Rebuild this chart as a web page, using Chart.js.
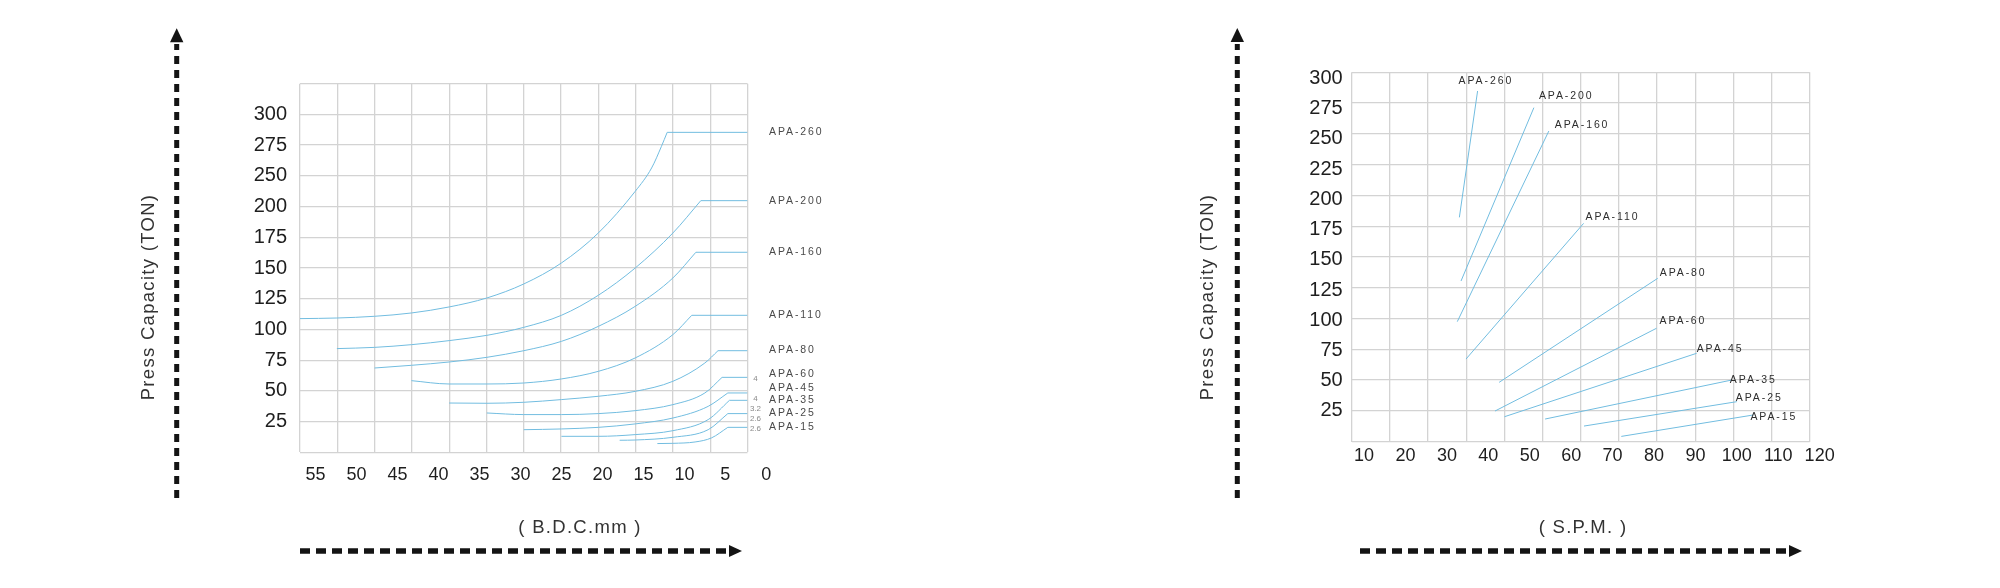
<!DOCTYPE html>
<html>
<head>
<meta charset="utf-8">
<title>Press capacity charts</title>
<script src="https://cdn.jsdelivr.net/npm/chart.js@4.4.1/dist/chart.umd.min.js"></script>
<style>
  body { margin: 0; background: #fff; }
  .panel { position: absolute; top: 0; width: 1000px; height: 588px; }
</style>
</head>
<body>
<div class="panel" style="left:0"><canvas id="bdcChart" width="1000" height="588"></canvas></div>
<div class="panel" style="left:1000px"><canvas id="spmChart" width="1000" height="588"></canvas></div>
<script>
// model names, top to bottom
var models = ['APA-260', 'APA-200', 'APA-160', 'APA-110', 'APA-80', 'APA-60', 'APA-45', 'APA-35', 'APA-25', 'APA-15'];

// ---- left chart: capacity (TON) against B.D.C. (mm) ----
var bdcTicks = [55, 50, 45, 40, 35, 30, 25, 20, 15, 10, 5, 0];
// tick labels as printed (the 225 line is printed "250" etc.)
var bdcTonLabels = ['', '25', '50', '75', '100', '125', '150', '175', '200', '250', '275', '300', ''];

var bdc260 = [56.9, 52.4, 47.8, 43.3, 38.7, 34.1, 29.6, 25.0, 20.5, 16.0, 14.0, 12.8, 12.1, 2.3];
var ton260 = [108.8, 109.3, 110.7, 113.4, 118.3, 125.6, 137.0, 154.1, 178.5, 212.4, 231.4, 249.0, 260.4, 260.4];
var bdc200 = [52.4, 47.8, 43.3, 38.7, 34.1, 29.6, 25.0, 20.5, 16.0, 11.4, 8.0, 2.3];
var ton200 = [84.4, 85.4, 87.6, 90.9, 95.2, 101.7, 111.5, 127.8, 150.0, 178.5, 204.8, 204.8];
var bdc160 = [47.8, 43.3, 38.7, 34.1, 29.6, 25.0, 20.5, 16.0, 11.4, 8.6, 2.3];
var ton160 = [68.6, 70.8, 73.5, 77.3, 82.7, 90.3, 102.5, 118.8, 141.9, 162.8, 162.8];
var bdc110 = [43.3, 38.7, 34.1, 29.6, 25.0, 20.5, 16.0, 11.4, 9.1, 2.3];
var ton110 = [58.3, 55.6, 55.6, 56.4, 59.7, 65.9, 76.8, 95.8, 111.5, 111.5];
var bdc80 = [38.7, 34.1, 29.6, 25.0, 20.5, 16.0, 11.4, 7.5, 5.9, 2.3];
var ton80 = [40.1, 39.9, 40.7, 42.9, 45.6, 49.6, 57.8, 72.7, 82.7, 82.7];
var bdc60 = [34.1, 29.6, 25.0, 20.5, 16.0, 11.4, 7.5, 5.4, 2.3];
var ton60 = [32.0, 30.7, 30.7, 31.5, 33.9, 38.8, 48.3, 61.0, 61.0];
var bdc45 = [29.6, 25.0, 20.5, 16.0, 11.4, 7.1, 4.7, 2.3];
var ton45 = [18.4, 19.0, 20.3, 23.1, 27.9, 37.4, 48.3, 48.3];
var bdc35 = [25.0, 20.5, 16.0, 11.4, 7.1, 4.5, 2.3];
var ton35 = [13.0, 13.0, 14.4, 17.6, 26.6, 42.3, 42.3];
var bdc25 = [17.9, 16.0, 11.4, 7.1, 4.7, 2.3];
var ton25 = [9.8, 10.0, 12.2, 18.4, 31.5, 31.5];
var bdc15 = [13.3, 11.4, 8.7, 6.7, 4.7, 2.3];
var ton15 = [7.1, 7.3, 8.4, 11.7, 20.3, 20.3];

var sideNotes = ['4', '4', '3.2', '2.6', '2.6'];
var sideNoteTon = [59.7, 43.4, 35.2, 27.1, 19.5];

// ---- right chart: capacity (TON) against S.P.M. ----
var spmTicks = [10, 20, 30, 40, 50, 60, 70, 80, 90, 100, 110, 120];
var spmTonTicks = [25, 50, 75, 100, 125, 150, 175, 200, 225, 250, 275, 300];
var spmLow = [33.0, 33.4, 32.5, 34.6, 42.6, 41.6, 43.9, 53.7, 63.1, 72.1];
var tonLow = [182.2, 130.5, 97.5, 67.1, 48.2, 24.9, 20.3, 18.4, 12.7, 4.3];
var spmHigh = [37.4, 51.0, 54.6, 63.0, 80.9, 80.6, 90.3, 98.8, 100.0, 104.0];
var tonHigh = [284.8, 271.3, 252.3, 177.3, 132.7, 92.1, 71.8, 50.1, 32.5, 21.7];

var lineBlue = '#72bde0';
var gridGrey = '#d3d3d3';
var family = "'Liberation Sans', Arial, sans-serif";

function fixedWidth(w) { return function (axis) { axis.width = w; }; }
function fixedHeight(h) {
    return function (axis) {
        axis.height = h;
        // labels run past the plot on purpose, don't let them squeeze the layout
        axis.paddingLeft = 0;
        axis.paddingRight = 0;
    };
}
function tickList(list) {
    return function (axis) { axis.ticks = list.map(function (v) { return { value: v }; }); };
}

function lineStyle(ds) {
    ds.borderColor = lineBlue;
    ds.borderWidth = 1;
    ds.pointRadius = 0;
    ds.fill = false;
    return ds;
}

function dashedArrow(ctx, vertical, fixed, from, to, tip) {
    ctx.save();
    ctx.strokeStyle = '#141414';
    ctx.fillStyle = '#141414';
    ctx.lineWidth = vertical ? 5 : 5.5;
    ctx.setLineDash(vertical ? [8, 6] : [10, 6]);
    ctx.beginPath();
    if (vertical) { ctx.moveTo(fixed, from); ctx.lineTo(fixed, to); }
    else { ctx.moveTo(from, fixed); ctx.lineTo(to, fixed); }
    ctx.stroke();
    ctx.beginPath();
    if (vertical) {
        ctx.moveTo(fixed, tip); ctx.lineTo(fixed - 6.7, tip + 14); ctx.lineTo(fixed + 6.7, tip + 14);
    } else {
        ctx.moveTo(tip, fixed); ctx.lineTo(tip - 13, fixed - 6); ctx.lineTo(tip - 13, fixed + 6);
    }
    ctx.closePath();
    ctx.fill();
    ctx.restore();
}

function axisTitles(ctx, yTitleX, xTitle, xTitleX) {
    ctx.save();
    ctx.fillStyle = '#333';
    ctx.font = '18.5px ' + family;
    ctx.letterSpacing = '1.3px';
    ctx.textAlign = 'center';
    ctx.textBaseline = 'middle';
    ctx.save();
    ctx.translate(yTitleX, 297);
    ctx.rotate(-Math.PI / 2);
    ctx.fillText('Press Capacity (TON)', 0, 0);
    ctx.restore();
    ctx.fillText(xTitle, xTitleX, 528);
    ctx.restore();
}

function labelFont(ctx, colour) {
    ctx.fillStyle = colour;
    ctx.font = '10.5px ' + family;
    ctx.letterSpacing = '1.9px';
    ctx.textAlign = 'left';
    ctx.textBaseline = 'middle';
}

// ---------- left chart ----------
var bdcCurves = [[bdc260, ton260], [bdc200, ton200], [bdc160, ton160], [bdc110, ton110], [bdc80, ton80],
                 [bdc60, ton60], [bdc45, ton45], [bdc35, ton35], [bdc25, ton25], [bdc15, ton15]];
var leftSets = [];
bdcCurves.forEach(function (c, i) {
    var pts = c[0].map(function (x, j) { return { x: x, y: c[1][j] }; });
    // curved part up to the knee, then the flat rated part
    leftSets.push(lineStyle({ label: models[i], data: pts.slice(0, -1), cubicInterpolationMode: 'monotone' }));
    leftSets.push(lineStyle({ label: models[i] + ' rated', data: pts.slice(-2) }));
});

var leftNudge = [0, 0, 0, 0, -1, -3, -5, 0, 0, 0];

var leftDecor = {
    id: 'leftDecor',
    afterDraw: function (chart) {
        var ctx = chart.ctx, y = chart.scales.y, area = chart.chartArea;
        dashedArrow(ctx, true, 176.7, 498, 44, 28.3);
        dashedArrow(ctx, false, 551, 300, 731, 742);
        axisTitles(ctx, 148.5, '( B.D.C.mm )', 580);
        ctx.save();
        labelFont(ctx, '#4a4a4a');
        bdcCurves.forEach(function (c, i) {
            var rated = c[1][c[1].length - 1];
            ctx.fillText(models[i], area.right + 21.5, y.getPixelForValue(rated) + leftNudge[i]);
        });
        ctx.fillStyle = '#8a8a8a';
        ctx.font = '8px ' + family;
        ctx.letterSpacing = '0px';
        ctx.textAlign = 'center';
        sideNotes.forEach(function (t, i) {
            ctx.fillText(t, area.right + 8, y.getPixelForValue(sideNoteTon[i]));
        });
        ctx.restore();
    }
};

new Chart(document.getElementById('bdcChart'), {
    type: 'line',
    data: { datasets: leftSets },
    options: {
        responsive: false,
        animation: false,
        layout: { padding: { left: 210, right: 252.5, top: 83.7, bottom: 95.7 } },
        plugins: { legend: { display: false }, tooltip: { enabled: false } },
        scales: {
            x: {
                type: 'linear', position: 'bottom', reverse: true, min: 2.3, max: 56.9,
                afterBuildTicks: tickList(bdcTicks),
                afterFit: fixedHeight(40),
                grid: { display: false },
                border: { display: false },
                ticks: { autoSkip: false, maxRotation: 0, padding: 4, color: '#1e1e1e',
                         font: { size: 18, family: family }, callback: function (v) { return String(v); } }
            },
            xGrid: {
                type: 'linear', position: 'bottom', min: 0, max: 12,
                afterFit: fixedHeight(0),
                ticks: { display: false, stepSize: 1 },
                grid: { color: gridGrey, lineWidth: 1.3, drawTicks: false },
                border: { display: false }
            },
            y: {
                min: 0, max: 300,
                afterFit: fixedWidth(90),
                grid: { color: gridGrey, lineWidth: 1.3, drawTicks: false },
                border: { display: false },
                ticks: { stepSize: 25, autoSkip: false, padding: 13, color: '#1e1e1e', font: { size: 20, family: family },
                         callback: function (v) { return bdcTonLabels[Math.round(v / 25)]; } }
            }
        }
    },
    plugins: [leftDecor]
});

// ---------- right chart ----------
var rightSets = models.map(function (m, i) {
    return lineStyle({ label: m, data: [{ x: spmLow[i], y: tonLow[i] }, { x: spmHigh[i], y: tonHigh[i] }] });
});

var rightNudge = [[-19, -10], [5, -12], [6, -6], [2, -6], [2, -5], [3, -7], [0, -4], [-2, 0], [-1, -4], [-3, 2]];

var rightDecor = {
    id: 'rightDecor',
    afterDraw: function (chart) {
        var ctx = chart.ctx, x = chart.scales.x, y = chart.scales.y;
        dashedArrow(ctx, true, 237.3, 498, 44, 28);
        dashedArrow(ctx, false, 551, 360, 790, 802);
        axisTitles(ctx, 208, '( S.P.M. )', 583);
        ctx.save();
        labelFont(ctx, '#2e2e2e');
        models.forEach(function (m, i) {
            ctx.fillText(m, x.getPixelForValue(spmHigh[i]) + rightNudge[i][0],
                         y.getPixelForValue(tonHigh[i]) + rightNudge[i][1]);
        });
        ctx.restore();
    }
};

new Chart(document.getElementById('spmChart'), {
    type: 'line',
    data: { datasets: rightSets },
    options: {
        responsive: false,
        animation: false,
        layout: { padding: { left: 261.7, right: 190.3, top: 72.3, bottom: 106.3 } },
        plugins: { legend: { display: false }, tooltip: { enabled: false } },
        scales: {
            x: {
                type: 'linear', position: 'bottom', min: 7.0, max: 117.6,
                afterBuildTicks: tickList(spmTicks),
                afterFit: fixedHeight(40),
                grid: { display: false },
                border: { display: false },
                ticks: { autoSkip: false, maxRotation: 0, padding: -4.5, color: '#1e1e1e',
                         font: { size: 18, family: family }, callback: function (v) { return String(v); } }
            },
            xGrid: {
                type: 'linear', position: 'bottom', min: 0, max: 12,
                afterFit: fixedHeight(0),
                ticks: { display: false, stepSize: 1 },
                grid: { color: gridGrey, lineWidth: 1.3, drawTicks: false },
                border: { display: false }
            },
            y: {
                min: 0, max: 300,
                afterFit: fixedWidth(0),
                grid: { color: gridGrey, lineWidth: 1.3, drawTicks: false },
                border: { display: false },
                ticks: { stepSize: 25, display: false }
            },
            // printed tick labels sit on a slightly tighter spacing than the grid
            yLabel: {
                position: 'left', min: -0.4, max: 305,
                afterBuildTicks: tickList(spmTonTicks),
                afterFit: fixedWidth(90),
                grid: { display: false },
                border: { display: false },
                ticks: { autoSkip: false, padding: 1, color: '#1e1e1e', font: { size: 20, family: family } }
            }
        }
    },
    plugins: [rightDecor]
});
</script>
</body>
</html>
